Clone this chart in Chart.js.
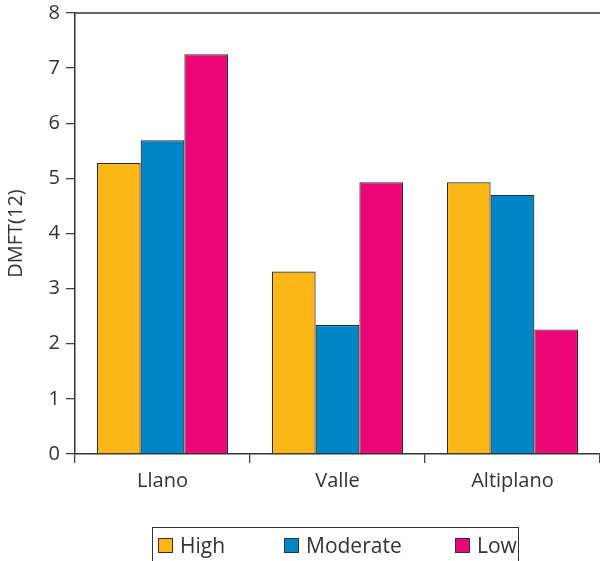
<!DOCTYPE html>
<html>
<head>
<meta charset="utf-8">
<script src="https://cdn.jsdelivr.net/npm/chart.js@4/dist/chart.umd.min.js"></script>
<style>
  html, body { margin: 0; padding: 0; background: #fff; }
  #wrap { position: relative; width: 600px; height: 561px; overflow: hidden; }
  #legend { position: absolute; left: 152px; top: 527px; width: 367px; height: 40px;
    border: 1.3px solid #333; box-sizing: border-box; font-family: "Open Sans", sans-serif;
    font-size: 21px; color: #333; }
  .item { position: absolute; top: 3px; display: flex; align-items: center; }
  .sw { width: 15px; height: 15px; border: 1.3px solid #333; margin-right: 7px; box-sizing: border-box; }
</style>
</head>
<body>
<div id="wrap">
<canvas id="c" width="600" height="561"></canvas>
<div id="legend"></div>
</div>
<script>
const categories = ["Llano", "Valle", "Altiplano"];
const seriesNames = ["High", "Moderate", "Low"];
const highValues = [5.28, 3.31, 4.93];
const moderateValues = [5.69, 2.34, 4.70];
const lowValues = [7.25, 4.93, 2.26];
const yTicks = [0, 1, 2, 3, 4, 5, 6, 7, 8];
const colors = ["#FBB715", "#0085C9", "#EC0677"];

const values = [highValues, moderateValues, lowValues];
const datasets = seriesNames.map((n, i) => ({
  label: n,
  data: values[i],
  backgroundColor: colors[i],
  borderColor: "#2b2b2b",
  borderWidth: 1.2,
  borderSkipped: "bottom",
  categoryPercentage: 0.75,
  barPercentage: 1.0
}));

const topLine = {
  id: "topLine",
  afterDraw(chart) {
    const a = chart.chartArea, ctx = chart.ctx;
    ctx.save();
    ctx.strokeStyle = "#333";
    ctx.lineWidth = 1.5;
    ctx.beginPath();
    ctx.moveTo(a.left, a.top);
    ctx.lineTo(chart.width, a.top);
    ctx.stroke();
    ctx.restore();
  }
};

const font = { family: "'Open Sans', sans-serif", size: 20 };
new Chart(document.getElementById("c"), {
  type: "bar",
  data: { labels: categories, datasets },
  options: {
    responsive: false,
    animation: false,
    layout: { padding: { top: 13, bottom: 57, left: 0, right: 0 } },
    plugins: { legend: { display: false }, tooltip: { enabled: false } },
    scales: {
      x: {
        afterFit: s => { s.height = 50; s.paddingLeft = 0; s.paddingRight = 0; },
        grid: { drawOnChartArea: false, tickLength: 9, tickColor: "#444", lineWidth: 1.3, offset: true },
        border: { color: "#333", width: 1.5 },
        ticks: { color: "#333", font, padding: 6 }
      },
      y: {
        min: 0, max: 8,
        afterFit: s => { s.width = 75; s.paddingTop = 0; s.paddingBottom = 0; },
        afterBuildTicks: s => { s.ticks = yTicks.map(v => ({ value: v })); },
        grid: { drawOnChartArea: false, tickLength: 9, tickColor: "#444", lineWidth: 1.3 },
        border: { color: "#333", width: 1.5 },
        ticks: { color: "#333", font, padding: 6 },
        title: { display: true, text: "DMFT(12)", color: "#333", font: { family: "'Open Sans', sans-serif", size: 20 }, padding: { bottom: 4 } }
      }
    }
  },
  plugins: [topLine]
});

const lg = document.getElementById("legend");
const lefts = [5, 131, 302];
seriesNames.forEach((n, i) => {
  const d = document.createElement("div");
  d.className = "item";
  d.style.left = lefts[i] + "px";
  d.innerHTML = '<span class="sw" style="background:' + colors[i] + '"></span><span>' + n + '</span>';
  lg.appendChild(d);
});
</script>
</body>
</html>
